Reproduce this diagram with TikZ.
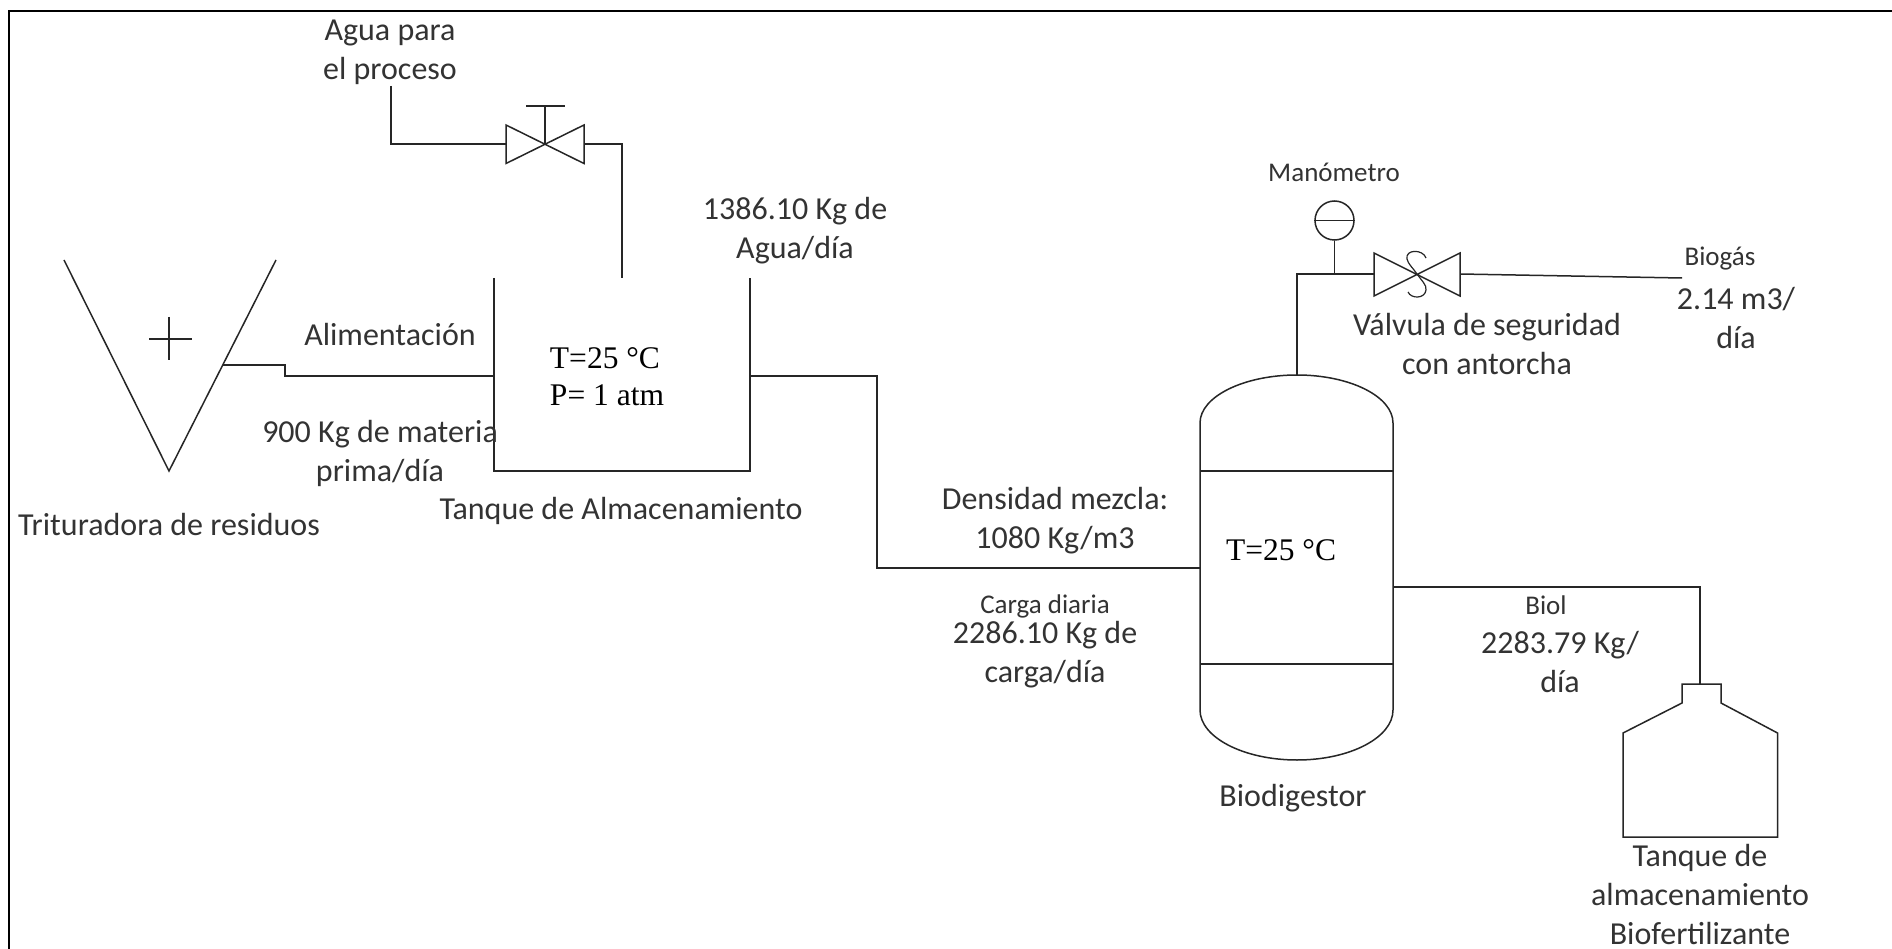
\documentclass[tikz,border=0pt]{standalone}
\usepackage{fontspec}
\setmainfont{Carlito}
\newfontfamily\timesf{Liberation Serif}
\tikzset{
  ln/.style={draw=black!85,line width=1.5pt,line join=miter},
  lab/.style={align=center,inner sep=0pt,text=black!80,font=\fontsize{32}{39}\selectfont},
  labsm/.style={lab,font=\fontsize{27}{30}\selectfont},
  tim/.style={align=left,inner sep=0pt,text=black,font=\timesf\fontsize{31.5}{37}\selectfont}
}
\begin{document}
\begin{tikzpicture}[x=1pt,y=-1pt]
\useasboundingbox (0,0) rectangle (1892,949);
\fill[white] (0,0) rectangle (1892,949);
% frame
\coordinate (fbl) at (9,949); \coordinate (ftl) at (9,11);
\coordinate (ftr) at (1892,11);
\draw[black,line width=2.4pt] (fbl) -- (ftl) -- (ftr);
% shredder
\coordinate (va) at (64,260); \coordinate (vb) at (169,471); \coordinate (vc) at (276,260);
\draw[ln] (va) -- (vb) -- (vc);
\draw[ln] (149,339) -- (192,339) (169,317) -- (169,360);
% storage tank
\coordinate (ta) at (494,278); \coordinate (tb) at (494,471); \coordinate (tc) at (750,471); \coordinate (td) at (750,278);
\draw[ln] (ta) -- (tb) -- (tc) -- (td);
\coordinate (fa) at (223,365); \coordinate (fb) at (494,376);
\draw[ln] (fa) -- (285,365) -- (285,376) -- (fb);
% water valve
\coordinate (wa) at (391,86); \coordinate (vl) at (506,144); \coordinate (vr) at (584,144); \coordinate (vm) at (545,144); \coordinate (wb) at (622,278);
\draw[ln] (wa) |- (vl);
\draw[ln] (506,125) -- (584,163.5) -- (584,125) -- (506,163.5) -- cycle;
\draw[ln] (vm) -- (545,106) (526,106) -- (565,106);
\draw[ln] (vr) -| (wb);
% digestor
\coordinate (dtop) at (1297,375);
\draw[ln] (1200,471) -- (1200,423) .. controls (1200,396.5) and (1244,375) .. (dtop)
  .. controls (1350,375) and (1393,396.5) .. (1393,423) -- (1393,710)
  .. controls (1393,737.5) and (1350,760) .. (1297,760)
  .. controls (1244,760) and (1200,737.5) .. (1200,710) -- cycle;
\draw[ln] (1200,471) -- (1393,471) (1200,664) -- (1393,664);
% tank to digestor
\coordinate (ma) at (750,376); \coordinate (mb) at (1200,568);
\draw[ln] (ma) -- (877,376) -- (877,568) -- (mb);
% gas line
\coordinate (sl) at (1374,274); \coordinate (sr) at (1460,274); \coordinate (sm) at (1417,274); \coordinate (gend) at (1682,278);
\draw[ln] (dtop) |- (sl);
\draw[ln] (1374,253) -- (1460,296) -- (1460,253) -- (1374,296) -- cycle;
\draw[ln,line width=1.2pt] (1426,258) .. controls (1423,249) and (1405,249) .. (1407,259) .. controls (1408,264) and (1413,268) .. (sm)
  .. controls (1421,280) and (1427,285) .. (1426,290) .. controls (1425,299) and (1411,299) .. (1408,292);
\draw[ln] (sr) -- (gend);
% gauge
\node[circle,draw=black!85,line width=1.5pt,minimum size=39pt,inner sep=0pt] (gauge) at (1334.5,220.5) {};
\draw[ln] (gauge.west) -- (gauge.east);
\coordinate (gj) at (1334.5,273);
\draw[ln] (gauge.south) -- (gj);
% biol
\coordinate (ba) at (1393,587); \coordinate (bb) at (1700,684);
\draw[ln] (ba) -| (bb);
\coordinate (bt) at (1623,733);
\draw[ln] (1682,684) -- (1721,684) -- (1721,703) -- (1777.5,733) -- (1777.5,837) -- (1623,837) -- (bt) -- (1682,703) -- cycle;
% text
\node[lab] (t1) at (390,52) {Agua para\\el proceso};
\node[lab] (t2) at (390,335) {Alimentación};
\node[lab] (t3) at (380,453) {900 Kg de materia\\prima/día};
\node[lab] (t4) at (169,525) {Trituradora de residuos};
\node[lab] (t5) at (621,511) {Tanque de Almacenamiento};
\node[lab] (t6) at (795,231) {1386.10 Kg de\\Agua/día};
\node[tim] (t7) at (607,377) {T=25 °C\\P= 1 atm};
\node[tim] (t8) at (1281,550) {T=25 °C};
\node[lab] (t9) at (1055,521) {Densidad mezcla:\\1080 Kg/m3};
\node[labsm] (t10) at (1045,606) {Carga diaria};
\node[lab] (t11) at (1045,655) {2286.10 Kg de\\carga/día};
\node[lab] (t12) at (1293,798) {Biodigestor};
\node[labsm] (t13) at (1334,172) {Manómetro};
\node[labsm] (t14) at (1720,259) {Biogás};
\node[lab] (t15) at (1736,318) {2.14 m3/\\día};
\node[lab] (t16) at (1487,344) {Válvula de seguridad\\con antorcha};
\node[labsm] (t17) at (1546,605) {Biol};
\node[lab] (t18) at (1560,662) {2283.79 Kg/\\día};
\node[lab] (t19) at (1700,894) {Tanque de\\almacenamiento\\Biofertilizante};
\end{tikzpicture}
\end{document}
